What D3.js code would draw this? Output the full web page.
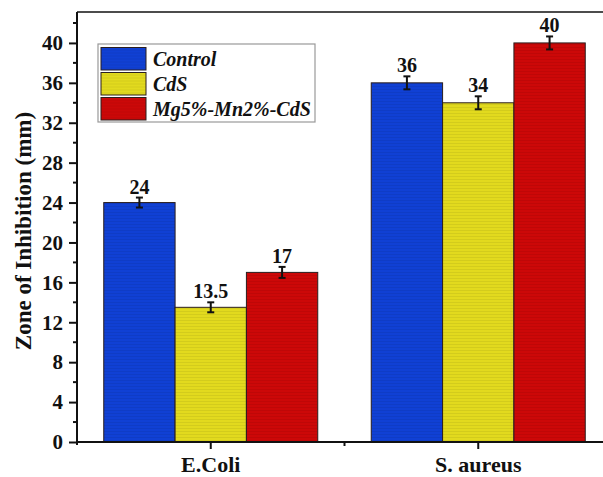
<!DOCTYPE html>
<html>
<head>
<meta charset="utf-8">
<script src="https://cdn.jsdelivr.net/npm/d3@7"></script>
<style>
  html, body { margin: 0; padding: 0; background: #fff; }
  svg { display: block; }
  text { font-family: "Liberation Serif", "Times New Roman", serif; font-weight: bold; fill: #111; }
</style>
</head>
<body>
<svg id="chart" width="603" height="477"></svg>
<script>
// Zone of inhibition (mm) per bacterium and sample
const categories = ["E.Coli", "S. aureus"];
const seriesNames = ["Control", "CdS", "Mg5%-Mn2%-CdS"];
const controlValues = [24, 36];
const cdsValues = [13.5, 34];
const mgMnCdsValues = [17, 40];
const controlErrors = [0.5, 0.65];
const cdsErrors = [0.5, 0.65];
const mgMnCdsErrors = [0.55, 0.65];
const yTicks = [0, 4, 8, 12, 16, 20, 24, 28, 32, 36, 40];
const seriesColors = ["#1040d4", "#e2da1e", "#cc0808"];

const seriesValues = [controlValues, cdsValues, mgMnCdsValues];
const seriesErrors = [controlErrors, cdsErrors, mgMnCdsErrors];

const svg = d3.select("#chart");
const plotLeft = 77, plotTop = 12, plotBottom = 442, plotRightEnd = 612;

const x = d3.scaleLinear().domain([0.5, categories.length + 0.5]).range([plotLeft, plotRightEnd]);
const y = d3.scaleLinear().domain([0, 43.1]).range([plotBottom, plotTop]);
const groupW = x(1.4) - x(0.6);
const inner = d3.scaleBand().domain(seriesNames).range([-groupW / 2, groupW / 2]).padding(0);

// striped fills
const defs = svg.append("defs");
seriesColors.forEach((c, i) => {
  const p = defs.append("pattern").attr("id", "stripe" + i)
    .attr("patternUnits", "userSpaceOnUse").attr("width", 6).attr("height", 3);
  p.append("rect").attr("width", 6).attr("height", 3).attr("fill", c);
  p.append("rect").attr("y", 2).attr("width", 6).attr("height", 1)
    .attr("fill", d3.color(c).darker(0.6)).attr("opacity", 0.35);
});

// bars
const rows = [];
categories.forEach((cat, ci) => {
  seriesNames.forEach((s, si) => {
    rows.push({ ci, si, cat, s, v: seriesValues[si][ci], e: seriesErrors[si][ci] });
  });
});

const g = svg.append("g");
g.selectAll("rect.bar").data(rows).join("rect")
  .attr("class", "bar")
  .attr("x", d => x(d.ci + 1) + inner(d.s))
  .attr("width", inner.bandwidth())
  .attr("y", d => y(d.v))
  .attr("height", d => y(0) - y(d.v))
  .attr("fill", d => `url(#stripe${d.si})`)
  .attr("stroke", "#2a1e1e").attr("stroke-width", 1);

// error bars
const cx = d => x(d.ci + 1) + inner(d.s) + inner.bandwidth() / 2;
const eb = g.selectAll("g.err").data(rows).join("g").attr("class", "err")
  .attr("stroke", "#111").attr("stroke-width", 2);
eb.append("line").attr("x1", cx).attr("x2", cx)
  .attr("y1", d => y(d.v + d.e)).attr("y2", d => y(d.v - d.e));
eb.append("line").attr("x1", d => cx(d) - 3.5).attr("x2", d => cx(d) + 3.5)
  .attr("y1", d => y(d.v + d.e)).attr("y2", d => y(d.v + d.e));
eb.append("line").attr("x1", d => cx(d) - 3.5).attr("x2", d => cx(d) + 3.5)
  .attr("y1", d => y(d.v - d.e)).attr("y2", d => y(d.v - d.e));

// value labels
g.selectAll("text.val").data(rows).join("text")
  .attr("class", "val")
  .attr("x", cx)
  .attr("y", d => y(d.v + d.e) - 4)
  .attr("text-anchor", "middle")
  .style("font-size", "20px")
  .text(d => d.v);

// frame: top edge
svg.append("line").attr("x1", plotLeft).attr("x2", plotRightEnd).attr("y1", plotTop).attr("y2", plotTop)
  .attr("stroke", "#111").attr("stroke-width", 1.5);

// y axis
const yAxis = svg.append("g").attr("transform", `translate(${plotLeft},0)`);
yAxis.call(d3.axisLeft(y).tickValues(yTicks).tickSize(8).tickSizeOuter(0).tickFormat(d3.format("d")));
yAxis.select(".domain").remove();
yAxis.selectAll(".tick line").attr("stroke", "#111").attr("stroke-width", 2);
yAxis.selectAll(".tick text").attr("x", -14).style("font-size", "21px")
  .style("font-family", "Liberation Serif, serif").style("font-weight", "bold").attr("fill", "#111");
const minorY = d3.range(2, 43, 4);
yAxis.selectAll("line.minor").data(minorY).join("line").attr("class", "minor")
  .attr("x1", -4).attr("x2", 0).attr("y1", d => y(d)).attr("y2", d => y(d))
  .attr("stroke", "#111").attr("stroke-width", 2);
yAxis.append("line").attr("x1", 0).attr("x2", 0).attr("y1", plotTop).attr("y2", plotBottom + 3)
  .attr("stroke", "#111").attr("stroke-width", 2);

// x axis
const xAxis = svg.append("g");
xAxis.append("line").attr("x1", plotLeft - 1).attr("x2", plotRightEnd).attr("y1", plotBottom).attr("y2", plotBottom)
  .attr("stroke", "#111").attr("stroke-width", 2);
xAxis.selectAll("line.major").data(categories).join("line").attr("class", "major")
  .attr("x1", (d, i) => x(i + 1)).attr("x2", (d, i) => x(i + 1))
  .attr("y1", plotBottom).attr("y2", plotBottom + 7)
  .attr("stroke", "#111").attr("stroke-width", 2);
xAxis.selectAll("line.minor").data(d3.range(1.5, categories.length, 1)).join("line").attr("class", "minor")
  .attr("x1", d => x(d)).attr("x2", d => x(d))
  .attr("y1", plotBottom).attr("y2", plotBottom + 4)
  .attr("stroke", "#111").attr("stroke-width", 2);
xAxis.selectAll("text.cat").data(categories).join("text").attr("class", "cat")
  .attr("x", (d, i) => x(i + 1)).attr("y", 472)
  .attr("text-anchor", "middle").style("font-size", "22px")
  .text(d => d);

// y axis title
svg.append("text")
  .attr("transform", `translate(31,${(plotTop + plotBottom) / 2 + 4}) rotate(-90)`)
  .attr("text-anchor", "middle")
  .style("font-size", "23px")
  .text("Zone of Inhibition (mm)");

// legend
const lg = svg.append("g").attr("transform", "translate(98,44)");
lg.append("rect").attr("width", 217).attr("height", 78)
  .attr("fill", "#fff").attr("stroke", "#999").attr("stroke-width", 1.2);
seriesNames.forEach((s, i) => {
  const row = lg.append("g").attr("transform", `translate(3,${3.5 + i * 25})`);
  row.append("rect").attr("width", 45).attr("height", 22.5)
    .attr("fill", `url(#stripe${i})`).attr("stroke", "#2a1e1e").attr("stroke-width", 1);
  row.append("text").attr("x", 52).attr("y", 18)
    .style("font-size", "20px").style("font-style", "italic")
    .text(s);
});
</script>
</body>
</html>
